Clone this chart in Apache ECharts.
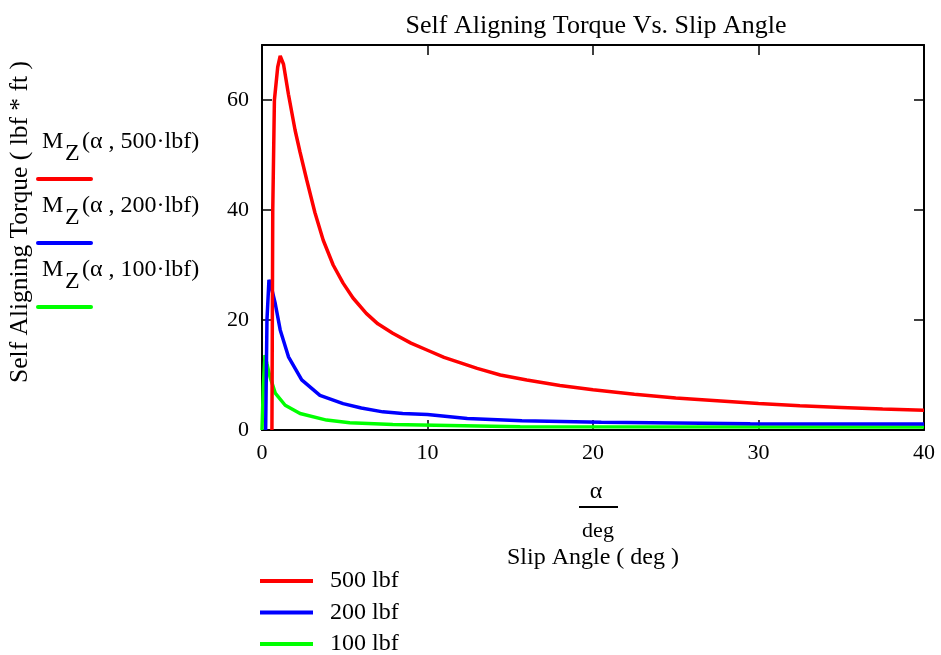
<!DOCTYPE html>
<html>
<head>
<meta charset="utf-8">
<script src="https://cdn.jsdelivr.net/npm/echarts@6/dist/echarts.min.js"></script>
<style>html,body{margin:0;padding:0;background:#fff}#c{width:941px;height:655px}</style>
</head>
<body>
<div id="c"></div>
<script>
// ---- data (slip angle in deg, torque in lbf*ft) ----
const seriesNames = ['500 lbf', '200 lbf', '100 lbf'];
const legendLabels = ['(α , 500·lbf)', '(α , 200·lbf)', '(α , 100·lbf)'];
const xTicks = [0, 10, 20, 30, 40];
const yTicks = [0, 20, 40, 60];

const alpha500 = [0.6, 0.65, 0.75, 0.95, 1.1, 1.3, 1.6, 2.0, 2.3, 2.7, 3.2, 3.7, 4.3, 4.9, 5.5, 6.3, 7.0, 7.9, 9.0, 10, 11, 12, 13, 14.4, 16, 18, 20, 22.5, 25, 27.5, 30, 32.5, 35, 37.5, 40];
const mz500   = [0, 40, 60, 66, 68, 66.5, 61, 54.5, 50.5, 45.5, 39.5, 34.5, 30, 26.7, 24, 21.2, 19.3, 17.6, 15.8, 14.5, 13.2, 12.2, 11.2, 10.0, 9.1, 8.1, 7.3, 6.5, 5.8, 5.3, 4.8, 4.4, 4.1, 3.8, 3.6];

const alpha200 = [0.22, 0.3, 0.42, 0.6, 0.8, 1.1, 1.6, 2.4, 3.5, 4.9, 6.0, 7.3, 8.5, 10, 12.4, 15.7, 20.5, 29.5, 40];
const mz200   = [0, 20, 27.3, 25.5, 23, 18.2, 13.3, 9.1, 6.3, 4.8, 4.0, 3.3, 3.0, 2.8, 2.1, 1.7, 1.4, 1.15, 1.1];

const alpha100 = [0, 0.08, 0.18, 0.3, 0.48, 0.8, 1.4, 2.3, 3.9, 5.3, 7.9, 15.6, 40];
const mz100   = [0, 8, 13.6, 12, 9.7, 6.7, 4.5, 3.0, 1.8, 1.3, 1.0, 0.6, 0.55];

const colors = ['#ff0000', '#0000ff', '#00ff00'];
const FONT = '"Liberation Serif", "Times New Roman", serif';

function pairs(xs, ys) { return xs.map((x, i) => [x, ys[i]]); }
const allData = [pairs(alpha500, mz500), pairs(alpha200, mz200), pairs(alpha100, mz100)];

const chart = echarts.init(document.getElementById('c'), null, {renderer: 'canvas'});

const axisLine = {show: true, onZero: false, lineStyle: {color: '#000', width: 2}};
const tickIn = {show: true, inside: true, length: 10, lineStyle: {color: '#000', width: 1.5}};

const graphics = [];
// left legend (M_Z(...) labels with line samples)
const baseY = [143, 207, 271];
const lineY = [179, 243, 307];
for (let i = 0; i < 3; i++) {
  graphics.push({type: 'text', left: 42, top: baseY[i] - 13, style: {text: 'M', font: '24px ' + FONT, fill: '#000'}});
  graphics.push({type: 'text', left: 65, top: baseY[i] - 1, style: {text: 'Z', font: '24px ' + FONT, fill: '#000'}});
  graphics.push({type: 'text', left: 82, top: baseY[i] - 13, style: {text: legendLabels[i], font: '24px ' + FONT, fill: '#000'}});
  graphics.push({type: 'line', shape: {x1: 38, y1: lineY[i], x2: 91, y2: lineY[i]}, style: {stroke: colors[i], lineWidth: 4, lineCap: 'round'}});
}
// y-axis title
graphics.push({type: 'text', x: 20, y: 222, rotation: Math.PI / 2, style: {text: 'Self Aligning Torque ( lbf * ft )', font: '25.5px ' + FONT, fill: '#000', align: 'center', verticalAlign: 'middle'}});
// x-axis fraction alpha / deg
graphics.push({type: 'text', x: 596, y: 492, style: {text: 'α', font: '24px ' + FONT, fill: '#000', align: 'center', verticalAlign: 'middle'}});
graphics.push({type: 'line', shape: {x1: 579, y1: 507, x2: 618, y2: 507}, style: {stroke: '#000', lineWidth: 2}});
graphics.push({type: 'text', x: 598, y: 531, style: {text: 'deg', font: '22px ' + FONT, fill: '#000', align: 'center', verticalAlign: 'middle'}});

const option = {
  backgroundColor: '#fff',
  animation: false,
  title: {
    text: 'Self Aligning Torque Vs. Slip Angle',
    left: 591, top: 8, textAlign: 'center',
    textStyle: {fontFamily: FONT, fontSize: 26, fontWeight: 'normal', color: '#000'}
  },
  grid: {left: 262, right: 17, top: 45, bottom: 225, containLabel: false},
  legend: {
    orient: 'vertical', left: 260, top: 569, height: 150, width: 300, padding: 0,
    data: seriesNames,
    icon: 'rect', itemWidth: 53, itemHeight: 4, itemGap: 7.5,
    textStyle: {fontFamily: FONT, fontSize: 24, color: '#000', padding: [0, 0, 0, 12], lineHeight: 22}
  },
  xAxis: [{
    type: 'value', position: 'bottom', min: xTicks[0], max: xTicks[xTicks.length - 1], interval: 10,
    axisLine: axisLine, axisTick: tickIn, splitLine: {show: false},
    axisLabel: {fontFamily: FONT, fontSize: 22, color: '#000', margin: 12, customValues: xTicks},
    name: 'Slip Angle ( deg )', nameLocation: 'middle', nameGap: 116,
    nameTextStyle: {fontFamily: FONT, fontSize: 24, color: '#000'}
  }, {
    type: 'value', position: 'top', min: 0, max: 40, interval: 10,
    axisLine: axisLine, axisTick: tickIn, axisLabel: {show: false}, splitLine: {show: false}
  }],
  yAxis: [{
    type: 'value', position: 'left', min: 0, max: 70, interval: 20,
    axisLine: axisLine, axisTick: Object.assign({}, tickIn, {customValues: yTicks}), splitLine: {show: false},
    axisLabel: {fontFamily: FONT, fontSize: 22, color: '#000', margin: 13, customValues: yTicks}
  }, {
    type: 'value', position: 'right', min: 0, max: 70, interval: 20,
    axisLine: axisLine, axisTick: Object.assign({}, tickIn, {customValues: yTicks}), axisLabel: {show: false}, splitLine: {show: false}
  }],
  series: seriesNames.map((n, i) => ({
    name: n, type: 'line', data: allData[i], showSymbol: false, symbol: 'none',
    z: 5 - i, clip: true,
    lineStyle: {color: colors[i], width: 3.5},
    itemStyle: {color: colors[i]}
  })),
  graphic: graphics
};
chart.setOption(option);
</script>
</body>
</html>
